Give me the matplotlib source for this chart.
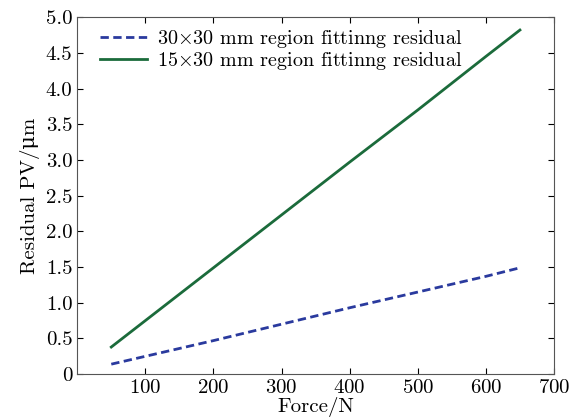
import numpy as np
import matplotlib
matplotlib.use("Agg")
import matplotlib.pyplot as plt

# datos
fuerza = [50, 100, 200, 300, 400, 500, 600, 650]
res_30x30 = [0.14, 0.25, 0.47, 0.70, 0.93, 1.15, 1.37, 1.49]
res_15x30 = [0.38, 0.75, 1.49, 2.23, 2.97, 3.70, 4.45, 4.82]

plt.rcParams['font.family'] = ['cmr10', 'DejaVu Serif']
plt.rcParams['mathtext.fontset'] = 'cm'
plt.rcParams['axes.formatter.use_mathtext'] = True

fig = plt.figure(figsize=(5.85, 4.19), dpi=100)
ax = fig.add_axes([0.132, 0.107, 0.815, 0.852])

ax.plot(fuerza, res_30x30, '--', color='#2a3a9e', lw=2.0, dashes=(3, 1.6),
        label=r'30$\times$30 mm region fittinng residual')
ax.plot(fuerza, res_15x30, '-', color='#1b6b3b', lw=2.0,
        label=r'15$\times$30 mm region fittinng residual')

ax.set_xlim(0, 700)
ax.set_ylim(0, 5)
ax.set_xticks([100, 200, 300, 400, 500, 600, 700])
ax.set_yticks(np.arange(0, 5.01, 0.5))
ax.set_yticklabels(['0'] + ['%.1f' % v for v in np.arange(0.5, 5.01, 0.5)])
ax.tick_params(direction='in', top=True, right=True, length=4, labelsize=15)
for s in ax.spines.values():
    s.set_color('#555555')

ax.set_xlabel('Force/N', fontsize=15, labelpad=0)
ax.set_ylabel('Residual PV/μm', fontsize=15, labelpad=4)

ax.legend(loc='upper left', bbox_to_anchor=(0.025, 1.0), frameon=False,
          fontsize=14.5, handlelength=2.3, borderaxespad=0.15,
          labelspacing=0.0, handletextpad=0.5)

fig.savefig('out.png', dpi=100)
